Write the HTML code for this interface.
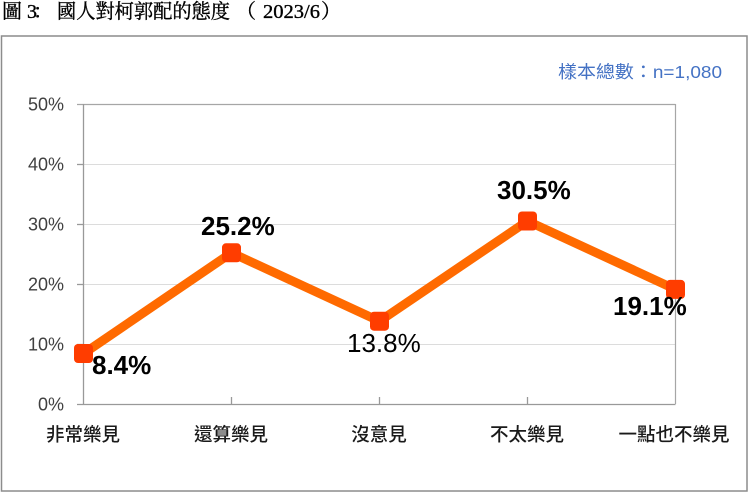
<!DOCTYPE html>
<html>
<head>
<meta charset="utf-8">
<style>
html,body{margin:0;padding:0;background:#fff;}
svg{display:block;}
.t{font-family:"Liberation Serif","Noto Serif CJK SC",serif;}
.ax{font-family:"Liberation Sans",sans-serif;font-size:18px;fill:#404040;}
.cat{font-family:"Liberation Sans","Noto Sans CJK TC",sans-serif;font-size:18.5px;fill:#1a1a1a;font-weight:500;}
.dl{font-family:"Liberation Sans",sans-serif;font-size:26px;fill:#000;}
</style>
</head>
<body>
<svg width="750" height="495" viewBox="0 0 750 495" xmlns="http://www.w3.org/2000/svg">
  <rect x="0" y="0" width="750" height="495" fill="#fff"/>
  <!-- title -->
  <g stroke="#000" stroke-width="0.35">
  <text class="t" x="2" y="18" font-size="20" fill="#000" font-family="Noto Serif CJK SC, serif">圖</text>
  <text class="t" x="27" y="18" font-size="20" fill="#000">3</text>
  <text class="t" x="33" y="18" font-size="20" fill="#000" font-family="Noto Serif CJK SC, serif">：</text>
  <text class="t" x="57" y="18" font-size="20" fill="#000" font-family="Noto Serif CJK SC, serif" textLength="173" lengthAdjust="spacingAndGlyphs">國人對柯郭配的態度</text>
  <text class="t" x="236" y="18" font-size="20" fill="#000" font-family="Noto Serif CJK SC, serif">（</text>
  <text class="t" x="263" y="18" font-size="20" fill="#000" textLength="57" lengthAdjust="spacingAndGlyphs">2023/6</text>
  <text class="t" x="321" y="18" font-size="20" fill="#000" font-family="Noto Serif CJK SC, serif">）</text>
  </g>

  <!-- outer box -->
  <rect x="1.5" y="36" width="745.5" height="455" fill="none" stroke="#8c8c8c" stroke-width="1.5"/>

  <!-- sample size -->
  <text x="558" y="78" font-size="17.5" fill="#4472C4" font-family="Liberation Sans, Noto Sans CJK TC, sans-serif" textLength="164" lengthAdjust="spacingAndGlyphs">樣本總數：n=1,080</text>

  <!-- gridlines -->
  <g stroke="#dcdcdc" stroke-width="1">
    <line x1="83" y1="164.5" x2="675" y2="164.5"/>
    <line x1="83" y1="224.5" x2="675" y2="224.5"/>
    <line x1="83" y1="284.5" x2="675" y2="284.5"/>
    <line x1="83" y1="344.5" x2="675" y2="344.5"/>
  </g>
  <!-- plot border -->
  <g stroke="#a6a6a6" stroke-width="1.2" fill="none">
    <line x1="77" y1="104.5" x2="675.5" y2="104.5"/>
    <line x1="675.5" y1="104" x2="675.5" y2="404"/>
  </g>
  <!-- axes -->
  <g stroke="#999" stroke-width="1.3">
    <line x1="83.5" y1="104" x2="83.5" y2="404.5"/>
    <line x1="77" y1="404.5" x2="675.5" y2="404.5"/>
    <line x1="77" y1="164.5" x2="83" y2="164.5"/>
    <line x1="77" y1="224.5" x2="83" y2="224.5"/>
    <line x1="77" y1="284.5" x2="83" y2="284.5"/>
    <line x1="77" y1="344.5" x2="83" y2="344.5"/>
    <line x1="231.5" y1="397" x2="231.5" y2="404"/>
    <line x1="379.5" y1="397" x2="379.5" y2="404"/>
    <line x1="527.5" y1="397" x2="527.5" y2="404"/>
  </g>

  <!-- y labels -->
  <g class="ax" text-anchor="end">
    <text x="64" y="110.5">50%</text>
    <text x="64" y="170.5">40%</text>
    <text x="64" y="230.5">30%</text>
    <text x="64" y="290.5">20%</text>
    <text x="64" y="350.5">10%</text>
    <text x="64" y="410.5">0%</text>
  </g>

  <!-- x labels -->
  <g class="cat" text-anchor="middle">
    <text x="83" y="441">非常樂見</text>
    <text x="231" y="441">還算樂見</text>
    <text x="379" y="441">沒意見</text>
    <text x="527" y="441">不太樂見</text>
    <text x="674" y="441">一點也不樂見</text>
  </g>

  <!-- series -->
  <polyline points="83.5,353.6 231.5,252.8 379.5,321.2 527.5,221 675.5,289.4" fill="none" stroke="#FF6A00" stroke-width="9" stroke-linejoin="miter"/>
  <g fill="#FF3D00">
    <rect x="74" y="344" width="19" height="19" rx="4"/>
    <rect x="222" y="243.3" width="19" height="19" rx="4"/>
    <rect x="370" y="311.7" width="19" height="19" rx="4"/>
    <rect x="518" y="211.5" width="19" height="19" rx="4"/>
    <rect x="666" y="279.9" width="19" height="19" rx="4"/>
  </g>

  <!-- data labels -->
  <text class="dl" x="92" y="374" font-weight="bold">8.4%</text>
  <text class="dl" x="201" y="235" font-weight="bold">25.2%</text>
  <text class="dl" x="347" y="352">13.8%</text>
  <text class="dl" x="497" y="199" font-weight="bold">30.5%</text>
  <text class="dl" x="613" y="315" font-weight="bold">19.1%</text>
</svg>
</body>
</html>
